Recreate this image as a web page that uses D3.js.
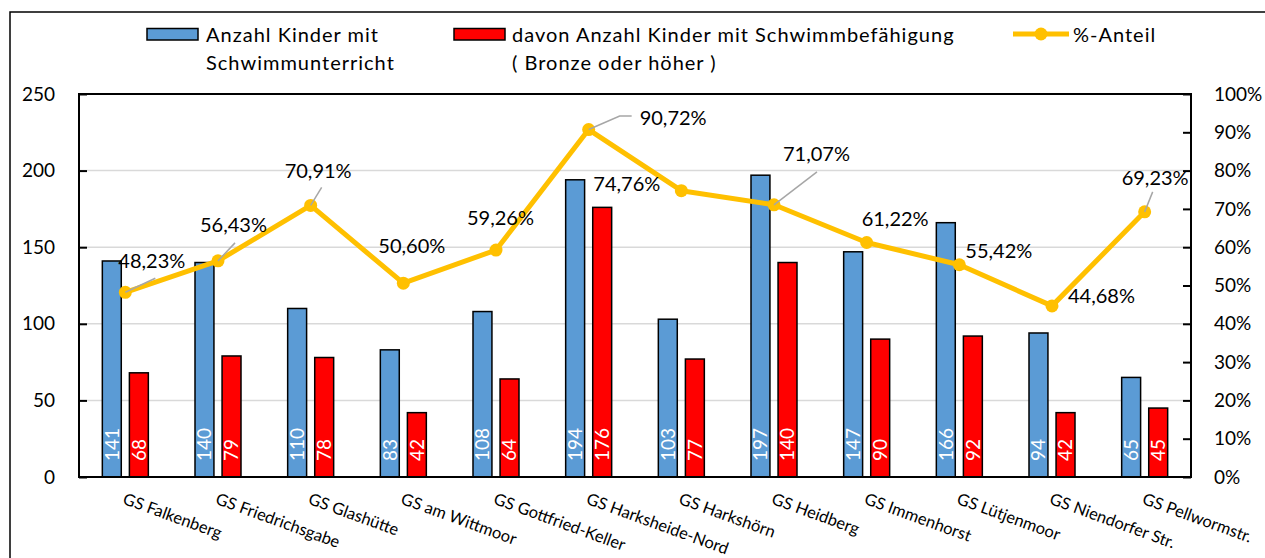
<!DOCTYPE html>
<html>
<head>
<meta charset="utf-8">
<script src="https://cdn.jsdelivr.net/npm/d3@7"></script>
<style>
  body { margin: 0; background: #fff; }
  svg text { font-family: Lato, "Open Sans", sans-serif; fill: #000; }
</style>
</head>
<body>
<div id="chart"></div>
<script>
// schools on the x axis
var schools = ["GS Falkenberg", "GS Friedrichsgabe", "GS Glashütte", "GS am Wittmoor",
  "GS Gottfried-Keller", "GS Harksheide-Nord", "GS Harkshörn", "GS Heidberg",
  "GS Immenhorst", "GS Lütjenmoor", "GS Niendorfer Str.", "GS Pellwormstr."]
// Anzahl Kinder mit Schwimmunterricht
var kinder = [141, 140, 110, 83, 108, 194, 103, 197, 147, 166, 94, 65]
// davon mit Schwimmbefähigung
var befaehigt = [68, 79, 78, 42, 64, 176, 77, 140, 90, 92, 42, 45]
// %-Anteil as printed on the chart
var anteil = [48.23, 56.43, 70.91, 50.60, 59.26, 90.72, 74.76, 71.07, 61.22, 55.42, 44.68, 69.23]
var leftTicks = [0, 50, 100, 150, 200, 250]
var rightTicks = [0, 0.1, 0.2, 0.3, 0.4, 0.5, 0.6, 0.7, 0.8, 0.9, 1]

// label placement relative to the point (moved by hand in the original)
var labelShift = [[-7, -24], [-18, -29], [-26, -27], [-25, -30], [-29, -25], [51, -5],
  [-88, 0], [9, -44], [-5, -17], [6, -7], [16, -3], [-23, -27]]
var leaders = {0: [[30, -14]], 1: [[17, -18]], 2: [[11, -18]], 5: [[31, -13.5], [43, -13.5]],
  7: [[43, -33]], 11: [[8, -20]]}

const colors = {
  blue: '#5b9bd5',
  red: '#ff0000',
  line: '#ffc000',
  grid: '#d9d9d9',
  leader: '#a6a6a6'
}

var W = 1265, H = 558
var plot = {left: 79, right: 1191, top: 94, bottom: 477}

var svg = d3.select("#chart").append("svg")
  .attr("width", W).attr("height", H)

// outer chart border (runs off the right and bottom edge)
svg.append("rect")
  .attr("x", 10).attr("y", 12).attr("width", W + 20).attr("height", H + 20)
  .attr("fill", "none").attr("stroke", "#000").attr("stroke-width", 1.5)

var x = d3.scaleBand().domain(schools).range([plot.left, plot.right]).paddingInner(0).paddingOuter(0)
var xSub = d3.scaleBand().domain(["kinder", "befaehigt"]).range([-23, 23]).paddingInner(0.3)
var y = d3.scaleLinear().domain([0, 250]).range([plot.bottom, plot.top])
var y2 = d3.scaleLinear().domain([0, 1]).range([plot.bottom, plot.top])

// gridlines
svg.append("g").selectAll("line")
  .data(leftTicks.filter(d => d > 0 && d < 250))
  .enter().append("line")
  .attr("x1", plot.left).attr("x2", plot.right)
  .attr("y1", d => y(d)).attr("y2", d => y(d))
  .attr("stroke", colors.grid).attr("stroke-width", 1.5)

// left axis, ticks pointing inward
var yAxis = svg.append("g")
  .attr("transform", "translate(" + plot.left + ",0)")
  .call(d3.axisRight(y).tickValues(leftTicks).tickSize(8).tickFormat(""))
yAxis.select(".domain").remove()
yAxis.selectAll("line").attr("stroke", "#000").attr("stroke-width", 2)
svg.append("g").selectAll("text")
  .data(leftTicks).enter().append("text")
  .attr("x", plot.left - 24).attr("y", d => y(d)).attr("dy", "0.35em")
  .attr("text-anchor", "end").style("font-size", "19px")
  .text(d => d)

// right axis
var y2Axis = svg.append("g")
  .attr("transform", "translate(" + plot.right + ",0)")
  .call(d3.axisLeft(y2).tickValues(rightTicks).tickSize(8).tickFormat(""))
y2Axis.select(".domain").remove()
y2Axis.selectAll("line").attr("stroke", "#000").attr("stroke-width", 2)
svg.append("g").selectAll("text")
  .data(rightTicks).enter().append("text")
  .attr("x", plot.right + 23).attr("y", d => y2(d)).attr("dy", "0.35em")
  .style("font-size", "19px")
  .text(d => Math.round(d * 100) + "%")

// bars
var groups = svg.append("g").selectAll("g")
  .data(schools).enter().append("g")
  .attr("transform", d => "translate(" + (x(d) + x.bandwidth() / 2) + ",0)")

groups.append("rect")
  .attr("x", xSub("kinder")).attr("width", xSub.bandwidth())
  .attr("y", (d, i) => y(kinder[i])).attr("height", (d, i) => y(0) - y(kinder[i]))
  .attr("fill", colors.blue).attr("stroke", "#000").attr("stroke-width", 1.5)
groups.append("rect")
  .attr("x", xSub("befaehigt")).attr("width", xSub.bandwidth())
  .attr("y", (d, i) => y(befaehigt[i])).attr("height", (d, i) => y(0) - y(befaehigt[i]))
  .attr("fill", colors.red).attr("stroke", "#000").attr("stroke-width", 1.5)

// values inside the bars, rotated
groups.append("text")
  .attr("transform", "translate(" + (xSub("kinder") + xSub.bandwidth() / 2) + "," + (y(0) - 16) + ") rotate(-90)")
  .attr("dy", "0.36em").style("font-size", "19px").style("fill", "#fff")
  .text((d, i) => kinder[i])
groups.append("text")
  .attr("transform", "translate(" + (xSub("befaehigt") + xSub.bandwidth() / 2) + "," + (y(0) - 16) + ") rotate(-90)")
  .attr("dy", "0.36em").style("font-size", "19px").style("fill", "#fff")
  .text((d, i) => befaehigt[i])

// plot frame
svg.append("rect")
  .attr("x", plot.left).attr("y", plot.top)
  .attr("width", plot.right - plot.left).attr("height", plot.bottom - plot.top)
  .attr("fill", "none").attr("stroke", "#000").attr("stroke-width", 2)

// x labels, slanted
svg.append("g").selectAll("text")
  .data(schools).enter().append("text")
  .attr("transform", d => "translate(" + (x(d) + x.bandwidth() / 2 + 1) + "," + (plot.bottom + 14) + ") rotate(20)")
  .attr("dy", "0.8em").style("font-size", "16.5px")
  .text(d => d)

// percentage line
var px = (d, i) => x(schools[i]) + x.bandwidth() / 2
var py = d => y2(d / 100)
var line = d3.line().x(px).y(py)
svg.append("path")
  .datum(anteil)
  .attr("d", line)
  .attr("fill", "none").attr("stroke", colors.line).attr("stroke-width", 5)
  .attr("stroke-linejoin", "round")
svg.append("g").selectAll("circle")
  .data(anteil).enter().append("circle")
  .attr("cx", px).attr("cy", py).attr("r", 6.5)
  .attr("fill", colors.line)

// leader lines
anteil.forEach(function(d, i) {
  if (!leaders[i]) return
  var pts = [[px(d, i), py(d)]].concat(leaders[i].map(p => [px(d, i) + p[0], py(d) + p[1]]))
  svg.append("path")
    .attr("d", d3.line()(pts))
    .attr("fill", "none").attr("stroke", colors.leader).attr("stroke-width", 1.5)
})

// percentage labels
svg.append("g").selectAll("text")
  .data(anteil).enter().append("text")
  .attr("x", (d, i) => px(d, i) + labelShift[i][0])
  .attr("y", (d, i) => py(d) + labelShift[i][1])
  .style("font-size", "20px")
  .text(d => d.toFixed(2).replace(".", ",") + "%")

// legend
var legend = svg.append("g").style("font-size", "20px").style("letter-spacing", "1px")
legend.append("rect").attr("x", 147).attr("y", 28.5).attr("width", 51).attr("height", 11.5)
  .attr("fill", colors.blue).attr("stroke", "#000").attr("stroke-width", 1.5)
legend.append("text").attr("x", 206).attr("y", 42).text("Anzahl Kinder mit")
legend.append("text").attr("x", 206).attr("y", 70).text("Schwimmunterricht")
legend.append("rect").attr("x", 454).attr("y", 28.5).attr("width", 51).attr("height", 11.5)
  .attr("fill", colors.red).attr("stroke", "#000").attr("stroke-width", 1.5)
legend.append("text").attr("x", 512).attr("y", 42).text("davon Anzahl Kinder mit Schwimmbefähigung")
legend.append("text").attr("x", 512).attr("y", 70).text("( Bronze oder höher )")
legend.append("line").attr("x1", 1013).attr("x2", 1069).attr("y1", 34).attr("y2", 34)
  .attr("stroke", colors.line).attr("stroke-width", 5)
legend.append("circle").attr("cx", 1041).attr("cy", 34).attr("r", 6.5).attr("fill", colors.line)
legend.append("text").attr("x", 1073).attr("y", 42).text("%-Anteil")
</script>
</body>
</html>
